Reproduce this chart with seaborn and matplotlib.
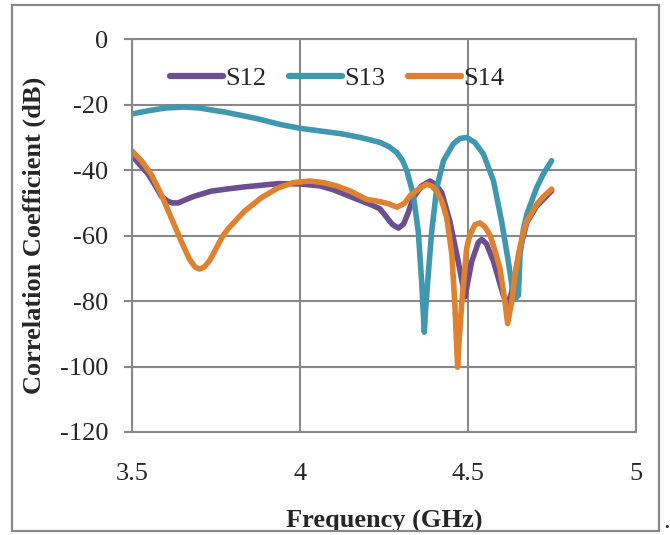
import matplotlib
matplotlib.use("Agg")
import matplotlib.pyplot as plt
import seaborn as sns
import pandas as pd
from matplotlib.patches import Rectangle

s12_freq = [3.50, 3.525, 3.548, 3.568, 3.587, 3.605, 3.62, 3.637, 3.66, 3.687, 3.736, 3.786,
            3.835, 3.885, 3.935, 4.00, 4.06, 4.10, 4.158, 4.208, 4.238, 4.255, 4.275, 4.293,
            4.308, 4.322, 4.337, 4.362, 4.387, 4.405, 4.422, 4.446, 4.471, 4.491, 4.511, 4.531,
            4.541, 4.555, 4.576, 4.605, 4.617, 4.628, 4.640, 4.655, 4.675, 4.704, 4.749]
s12_db = [-35.6, -38.5, -41.2, -44.5, -47.9, -49.4, -50, -50, -49, -47.9, -46.4, -45.7,
          -45.1, -44.6, -44.1, -44.2, -44.8, -46, -48.4, -50.4, -51.8, -54, -56.6, -57.7,
          -56.5, -53, -48.4, -44.8, -43.3, -44.5, -46.9, -55.6, -67.9, -78.7, -67.9, -62,
          -61.2, -62.5, -67.9, -78.2, -81, -78, -72, -64, -56, -51, -46.3]

s13_freq = [3.50, 3.55, 3.60, 3.654, 3.70, 3.78, 3.87, 3.94, 4.00, 4.06, 4.125, 4.18, 4.238,
            4.265, 4.288, 4.305, 4.318, 4.337, 4.352, 4.362, 4.367, 4.370, 4.373, 4.380, 4.392,
            4.407, 4.427, 4.456, 4.476, 4.496, 4.52, 4.546, 4.576, 4.600, 4.620, 4.635,
            4.643, 4.650, 4.655, 4.665, 4.675, 4.704, 4.725, 4.749]
s13_db = [-22.8, -21.8, -21.0, -20.7, -21, -22.3, -24.2, -26, -27.2, -28, -28.9, -30, -31.5,
          -32.8, -34.6, -37, -40.2, -47.4, -58.7, -74, -84, -89.5, -84, -74, -58.7,
          -45.4, -37.1, -32, -30.3, -30, -31.5, -35.1, -43.3, -55.6, -67.9, -78.2,
          -79, -78.2, -65.8, -58, -53.5, -45.4, -41, -37.1]

s14_freq = [3.50, 3.528, 3.557, 3.587, 3.617, 3.647, 3.672, 3.688, 3.701, 3.715, 3.731, 3.745,
            3.758, 3.771, 3.786, 3.835, 3.885, 3.935, 3.98, 4.03, 4.07, 4.109, 4.15, 4.198,
            4.238, 4.265, 4.288, 4.31, 4.327, 4.35, 4.377, 4.392, 4.407, 4.422, 4.437, 4.452,
            4.461, 4.466, 4.469, 4.473, 4.481, 4.496, 4.506, 4.521, 4.536, 4.55, 4.565, 4.58,
            4.595, 4.610, 4.618, 4.630, 4.640, 4.650, 4.662, 4.675, 4.704, 4.725, 4.749]
s14_db = [-34.1, -37.1, -41.2, -47.4, -54.6, -61.8, -67.4, -69.6, -70.2, -69.6, -67.6, -65,
          -62.4, -60, -57.9, -52.5, -48.4, -45.4, -43.8, -43.3, -43.8, -44.8, -46.4, -48.9,
          -49.6, -50.3, -51.3, -50.2, -47.9, -46, -44.3, -44.8, -46.4, -49.5, -54.6, -65.8,
          -81.2, -93, -100.2, -93, -81.2, -63.8, -59.7, -56.6, -56.1, -57.3, -59.7, -64.5,
          -70, -80.2, -86.9, -80.2, -72, -65.8, -60, -55.6, -50.5, -48, -45.8]

series_names = ["S12", "S13", "S14"]
colors = ["#6C4F8E", "#3F97B0", "#E0812F"]
x_ticks = [3.5, 4, 4.5, 5]
y_ticks = [0, -20, -40, -60, -80, -100, -120]

frames = []
for name, f, v in zip(series_names, [s12_freq, s13_freq, s14_freq], [s12_db, s13_db, s14_db]):
    frames.append(pd.DataFrame({"Frequency": f, "dB": v, "Series": name}))
df = pd.concat(frames, ignore_index=True)

sns.set_style("white")
plt.rcParams['font.family'] = ['Liberation Serif', 'DejaVu Serif']

fig = plt.figure(figsize=(6.7, 5.35), dpi=100)
ax = fig.add_axes([132/670, 1 - 432/535, (636-132)/670, (432-39.3)/535])

sns.lineplot(data=df, x="Frequency", y="dB", hue="Series", palette=colors,
             hue_order=series_names, estimator=None, sort=False, linewidth=4.0,
             ax=ax, legend=True)
for ln in ax.get_lines():
    ln.set_solid_joinstyle("round")
    ln.set_solid_capstyle("round")

ax.set_xlim(3.5, 5)
ax.set_ylim(-120, 0)
ax.set_xticks(x_ticks)
ax.set_xticklabels(["3.5", "4", "4.5", "5"])
ax.set_yticks(y_ticks)
ax.set_yticklabels([str(t) for t in y_ticks])
ax.grid(True, color="#888888", linewidth=1.5)
ax.set_axisbelow(True)
for s in ax.spines.values():
    s.set_color("#888888")
    s.set_linewidth(1.5)
ax.tick_params(axis="y", which="both", left=True, length=6, width=1.5, color="#888888",
               pad=11, labelsize=19)
ax.tick_params(axis="x", which="both", bottom=False, length=0, pad=22, labelsize=19)

ax.set_xlabel("Frequency (GHz)", fontsize=19, fontweight="bold", labelpad=18)
ax.set_ylabel("Correlation Coefficient (dB)", fontsize=19, fontweight="bold", labelpad=10)

leg = ax.legend(loc="center left", bbox_to_anchor=(0.076, 0.90), ncol=3, frameon=False,
                fontsize=19, handlelength=2.0, handletextpad=0.1, columnspacing=0.85,
                borderaxespad=0, borderpad=0)
for h in leg.get_lines():
    h.set_linewidth(4.5)

fig.patches.append(Rectangle((12/670, 1 - 531/535), (659-12)/670, (531-5)/535,
                             transform=fig.transFigure, fill=False,
                             edgecolor="#888888", linewidth=1.6))
fig.text(663/670, 1 - 528/535, ".", fontsize=19, ha="left", va="baseline")

fig.savefig("out.png", dpi=100)
